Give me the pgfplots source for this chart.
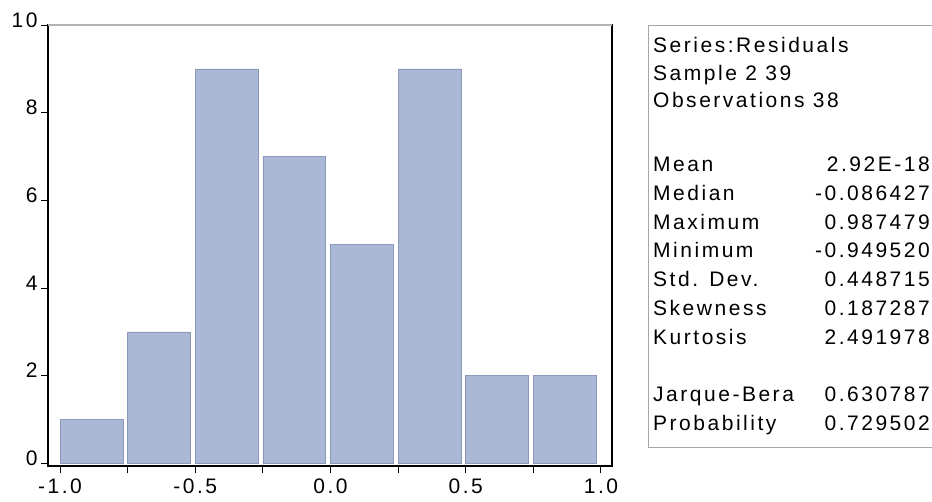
\documentclass[border=0pt]{standalone}
\usepackage{fontspec}
\setmainfont{Liberation Sans}
\newfontfamily\ev[LetterSpace=12]{Liberation Sans}
\usepackage{pgfplots}
\pgfplotsset{compat=1.18}
\definecolor{barblue}{RGB}{170,184,214}
\definecolor{baredge}{RGB}{140,152,186}
\newcommand{\evf}{\ev\fontsize{21}{25}\selectfont}
\begin{document}
\begin{tikzpicture}
\path[use as bounding box] (0pt,0pt) rectangle (932pt,-501pt);
\begin{axis}[
  at={(48pt,-466pt)}, anchor=south west,
  scale only axis, width=564pt, height=441pt,
  xmin=-1.0444, xmax=1.0407, ymin=-0.06, ymax=10,
  axis line style={black, line width=1.1pt},
  tick align=outside, major tick length=7pt,
  tick style={black, line width=1pt},
  xtick={-1,-0.75,-0.5,-0.25,0,0.25,0.5,0.75,1},
  xticklabels={-1.0,,-0.5,,0.0,,0.5,,1.0},
  ytick={0,2,4,6,8,10},
  yticklabels={0,2,4,6,8,10},
  xtick pos=bottom, ytick pos=left,
  tick label style={font=\evf},
  yticklabel style={anchor=base east, yshift=-2pt},
  xticklabel style={yshift=-2pt},
  clip=false,
]
\addplot[ybar, bar width=0.232, bar shift=0.116, fill=barblue, draw=baredge, line width=0.5pt]
  coordinates {(-1,1) (-0.75,3) (-0.5,9) (-0.25,7) (0,5) (0.25,9) (0.5,2) (0.75,2)};
\draw[gray!60, line width=1.1pt] (rel axis cs:0,1) -- (rel axis cs:1,1);
\end{axis}
\draw[gray!70, line width=1pt] (648pt,-25pt) rectangle (945pt,-447pt);
\begin{scope}[every node/.style={inner sep=0pt, font=\evf}]
\node[anchor=base west] at (653pt,-52.5pt) {Series:Residuals};
\node[anchor=base west] at (653pt,-80pt) {Sample 2 39};
\node[anchor=base west] at (653pt,-107.5pt) {Observations 38};
\node[anchor=base west] at (653pt,-171.5pt) {Mean};
\node[anchor=base west] at (653pt,-200.3pt) {Median};
\node[anchor=base west] at (653pt,-229.1pt) {Maximum};
\node[anchor=base west] at (653pt,-257.9pt) {Minimum};
\node[anchor=base west] at (653pt,-286.7pt) {Std. Dev.};
\node[anchor=base west] at (653pt,-315.5pt) {Skewness};
\node[anchor=base west] at (653pt,-344.3pt) {Kurtosis};
\node[anchor=base west] at (653pt,-401.9pt) {Jarque-Bera};
\node[anchor=base west] at (653pt,-430.7pt) {Probability};
\node[anchor=base east] at (930pt,-171.5pt) {2.92E-18};
\node[anchor=base east] at (930pt,-200.3pt) {-0.086427};
\node[anchor=base east] at (930pt,-229.1pt) {0.987479};
\node[anchor=base east] at (930pt,-257.9pt) {-0.949520};
\node[anchor=base east] at (930pt,-286.7pt) {0.448715};
\node[anchor=base east] at (930pt,-315.5pt) {0.187287};
\node[anchor=base east] at (930pt,-344.3pt) {2.491978};
\node[anchor=base east] at (930pt,-401.9pt) {0.630787};
\node[anchor=base east] at (930pt,-430.7pt) {0.729502};
\end{scope}
\end{tikzpicture}
\end{document}
